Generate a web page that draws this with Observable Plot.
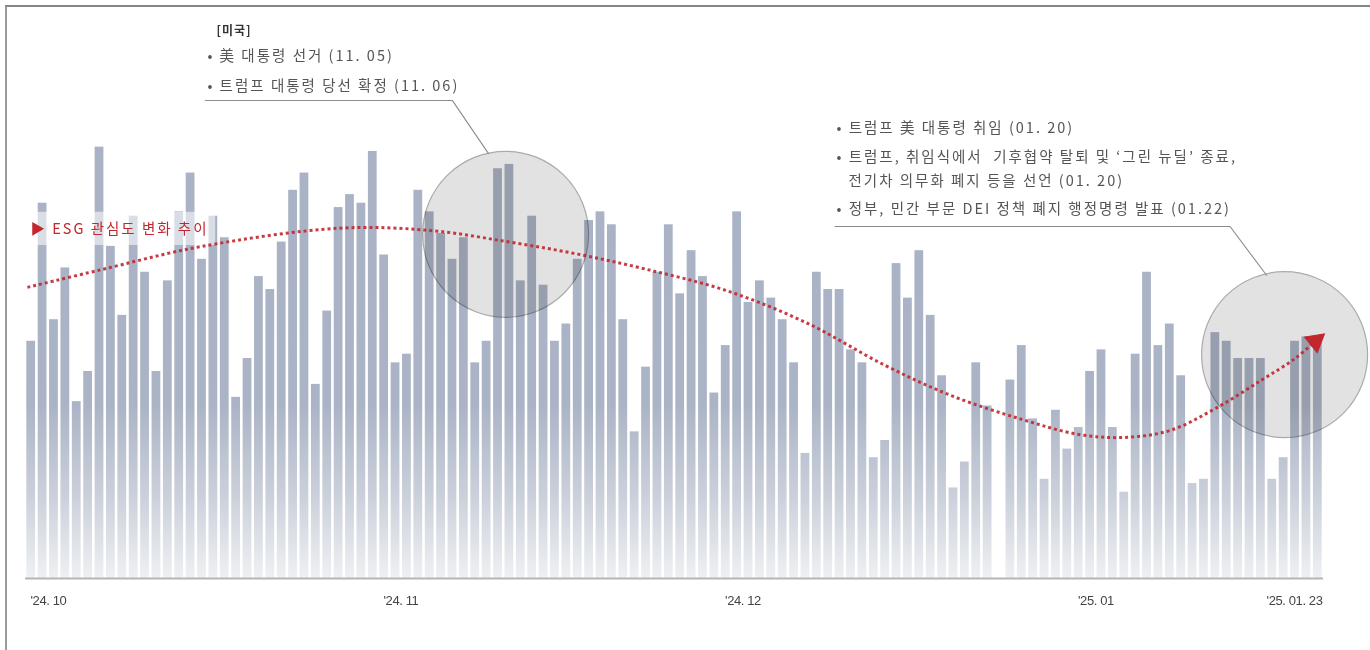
<!DOCTYPE html>
<html>
<head>
<meta charset="utf-8">
<script src="https://cdn.jsdelivr.net/npm/d3@7"></script>
<script src="https://cdn.jsdelivr.net/npm/@observablehq/plot@0.6"></script>
<style>
  html, body { margin: 0; padding: 0; background: #fff; }
  #wrap { position: relative; width: 1370px; height: 650px; overflow: hidden; }
  #frame { position: absolute; left: 5px; top: 5px; right: -5px; bottom: -5px;
           border-top: 2px solid #858585; border-left: 2px solid #9a9a9a; pointer-events: none; }
</style>
</head>
<body>
<div id="wrap"><div id="chart"></div><div id="frame"></div></div>
<script>
// ---------- data ----------
const startDate = "2024-10-01";
// daily ESG interest index (Oct 1, 2024 – Jan 22, 2025); Dec 25 has no data
const dailyValues = [
  // Oct
  55, 87, 60, 72, 41, 48, 100, 77, 61, 84, 71, 48, 69, 85, 94, 74, 84, 79, 42, 51,
  70, 67, 78, 90, 94, 45, 62, 86, 89, 87, 99,
  // Nov
  75, 50, 52, 90, 85, 80, 74, 79, 50, 55, 95, 96, 69, 84, 68, 55, 59, 74, 83, 85,
  82, 60, 34, 49, 71, 82, 66, 76, 70, 43,
  // Dec
  54, 85, 64, 69, 65, 60, 50, 29, 71, 67, 67, 53, 50, 28, 32, 73, 65, 76, 61, 47,
  21, 27, 50, 40, null, 46, 54, 37, 23, 39, 30,
  // Jan
  35, 48, 53, 35, 20, 52, 71, 54, 59, 47, 22, 23, 57, 55, 51, 51, 51, 23, 28, 55,
  56, 56
];

const tickDates = ["2024-10-01", "2024-11-01", "2024-12-01", "2025-01-01"];
const tickLabels = ["'24. 10", "'24. 11", "'24. 12", "'25. 01"];
const endTickDates = ["2025-01-23"];
const endTickLabels = ["'25. 01. 23"];

// ESG interest trend (dotted curve)
const trendDates = [
  "2024-10-01T04:00Z", "2024-10-07T12:00Z", "2024-10-16T12:00Z", "2024-10-28T12:00Z",
  "2024-11-05T12:00Z", "2024-11-12T12:00Z", "2024-11-18T12:00Z", "2024-11-24T12:00Z",
  "2024-12-01T12:00Z", "2024-12-08T12:00Z", "2024-12-15T12:00Z", "2024-12-21T12:00Z",
  "2024-12-27T12:00Z", "2025-01-01T12:00Z", "2025-01-05T12:00Z", "2025-01-09T12:00Z",
  "2025-01-13T12:00Z", "2025-01-17T12:00Z", "2025-01-20T12:00Z", "2025-01-22T12:00Z"
];
const trendValues = [
  67.5, 71.5, 77.0, 81.2, 80.7, 78.0, 75.2, 71.7, 66.8, 59.4,
  49.4, 42.2, 36.9, 33.4, 32.7, 34.3, 39.4, 45.9, 51.0, 55.5
];
const trendLabel = ["▶ ESG 관심도 변화 추이"];
const trendLabelDates = ["2024-10-01T10:30Z"];
const trendLabelValues = [80.9];
const trendLabelBoxDates = ["2024-10-01T00:00Z", "2024-10-17T16:48Z"];
const trendLabelBoxValues = [77.2, 84.9];
const arrowDates = ["2025-01-22T07:00Z"];
const arrowValues = [55.0];

// highlight circles (event periods)
const circleDates = ["2024-11-12T04:00Z", "2025-01-19T14:00Z"];
const circleValues = [79.8, 51.9];

// annotations
const noteHead = ["[미국]"];
const noteHeadDates = ["2024-10-17T18:30Z"];
const noteHeadValues = [126.8];
const noteTexts = [
  "• 美 대통령 선거 (11. 05)",
  "• 트럼프 대통령 당선 확정 (11. 06)",
  "• 트럼프 美 대통령 취임 (01. 20)",
  "• 트럼프, 취임식에서  기후협약 탈퇴 및 ‘그린 뉴딜’ 종료,",
  "전기차 의무화 폐지 등을 선언 (01. 20)",
  "• 정부, 민간 부문 DEI 정책 폐지 행정명령 발표 (01.22)"
];
const noteDates = [
  "2024-10-16T23:30Z", "2024-10-16T23:30Z",
  "2024-12-11T05:30Z", "2024-12-11T05:30Z", "2024-12-12T06:45Z", "2024-12-11T05:30Z"
];
const noteValues = [121.0, 114.1, 104.3, 97.6, 92.0, 85.6];

// leader lines from notes to circles
const leaderIds = ["us", "us", "us", "inaug", "inaug", "inaug"];
const leaderDates = [
  "2024-10-16T19:00Z", "2024-11-07T12:00Z", "2024-11-10T16:00Z",
  "2024-12-11T02:24Z", "2025-01-14T19:00Z", "2025-01-18T00:00Z"
];
const leaderValues = [110.8, 110.8, 98.5, 81.6, 81.6, 70.3];

// ---------- build ----------
const parse = s => new Date(s.length === 10 ? s + "T00:00:00Z" : s);
const start = parse(startDate);
const bars = dailyValues
  .map((v, i) => ({date: d3.utcDay.offset(start, i), value: v}))
  .filter(d => d.value != null);
const trend = trendDates.map((d, i) => ({date: parse(d), value: trendValues[i]}));
const circles = circleDates.map((d, i) => ({date: parse(d), value: circleValues[i]}));
const notes = noteTexts.map((t, i) => ({date: parse(noteDates[i]), value: noteValues[i], text: t}));
const heads = noteHead.map((t, i) => ({date: parse(noteHeadDates[i]), value: noteHeadValues[i], text: t}));
const leaders = leaderIds.map((id, i) => ({id, date: parse(leaderDates[i]), value: leaderValues[i]}));
const ticks = tickDates.map((d, i) => ({date: parse(d), label: tickLabels[i]}));
const endTicks = endTickDates.map((d, i) => ({date: parse(d), label: endTickLabels[i]}));
const labelRows = trendLabel.map((t, i) => ({date: parse(trendLabelDates[i]), value: trendLabelValues[i], text: t}));
const labelBox = [{x1: parse(trendLabelBoxDates[0]), x2: parse(trendLabelBoxDates[1]),
                   y1: trendLabelBoxValues[0], y2: trendLabelBoxValues[1]}];
const arrows = arrowDates.map((d, i) => ({date: parse(d), value: arrowValues[i]}));

const RED = "#c1272d";
const FONT = "'Noto Sans CJK KR', 'Noto Sans', sans-serif";
const TICKFONT = "'Liberation Sans Narrow', 'Liberation Sans', Arial, sans-serif";

const chart = Plot.plot({
  width: 1370,
  height: 650,
  marginLeft: 25,
  marginRight: 47,
  marginTop: 0,
  marginBottom: 72,
  x: {type: "utc", domain: [parse("2024-10-01"), parse("2025-01-23")], axis: null},
  y: {domain: [0, 134], axis: null},
  style: {fontFamily: FONT, background: "transparent", overflow: "visible"},
  marks: [
    Plot.rect(bars, {
      x1: "date", x2: d => d3.utcDay.offset(d.date, 1), y1: 0, y2: "value",
      insetLeft: 1.3, insetRight: 1.3, fill: "url(#barGrad)"
    }),
    Plot.ruleY([0], {stroke: "#b5b5b5", strokeWidth: 2}),
    Plot.dot(circles, {
      x: "date", y: "value", r: 83, fill: "#e2e2e2", stroke: "#ababab", strokeWidth: 1.2,
      mixBlendMode: "multiply"
    }),
    Plot.rect(labelBox, {x1: "x1", x2: "x2", y1: "y1", y2: "y2", fill: "white", fillOpacity: 0.55}),
    Plot.line(trend, {
      x: "date", y: "value", curve: "catmull-rom", stroke: RED, strokeWidth: 3,
      strokeDasharray: "3,3", strokeLinecap: "butt", strokeOpacity: 0.9
    }),
    Plot.dot(arrows, {x: "date", y: "value", symbol: "triangle", r: 7.5, fill: RED, stroke: RED, strokeWidth: 1, rotate: 51}),
    Plot.line(leaders, {x: "date", y: "value", z: "id", stroke: "#8c8c8c", strokeWidth: 1.1}),
    Plot.text(labelRows, {
      x: "date", y: "value", text: "text", textAnchor: "start", fontSize: 14.5, fill: RED
    }),
    Plot.text(heads, {
      x: "date", y: "value", text: "text", textAnchor: "start", fontSize: 12, fontWeight: "bold",
      fill: "#333"
    }),
    Plot.text(notes, {
      x: "date", y: "value", text: "text", textAnchor: "start", fontSize: 14.5, fill: "#555"
    }),
    Plot.text(ticks, {
      x: "date", text: "label", frameAnchor: "bottom", dy: 26, dx: 5, textAnchor: "start",
      fontSize: 13, fill: "#444", fontFamily: TICKFONT
    }),
    Plot.text(endTicks, {
      x: "date", text: "label", frameAnchor: "bottom", dy: 26, dx: -1, textAnchor: "end",
      fontSize: 13, fill: "#444", fontFamily: TICKFONT
    })
  ]
});

const y0 = chart.scale("y").apply(0);
d3.select(chart).insert("defs", ":first-child").html(`
  <linearGradient id="barGrad" gradientUnits="userSpaceOnUse" x1="0" y1="0" x2="0" y2="${y0}">
    <stop offset="0" stop-color="#a9b2c4"/>
    <stop offset="0.70" stop-color="#abb4c6"/>
    <stop offset="0.86" stop-color="#cbd1db"/>
    <stop offset="1" stop-color="#eef0f3"/>
  </linearGradient>`);

// letter spacing of the annotation texts
const spaced = new Set([...noteTexts, ...trendLabel]);
d3.select(chart).selectAll("text")
  .filter(function() { return spaced.has(this.textContent); })
  .style("letter-spacing", "2px");
d3.select(chart).selectAll("text")
  .filter(function() { return noteHead.includes(this.textContent); })
  .style("letter-spacing", "1px");
const tickSet = new Set([...tickLabels, ...endTickLabels]);
d3.select(chart).selectAll("text")
  .filter(function() { return tickSet.has(this.textContent); })
  .style("letter-spacing", "-0.4px");
d3.select(chart).selectAll("circle")
  .filter(function() { return +this.getAttribute("r") > 50; })
  .style("mix-blend-mode", "multiply");

document.getElementById("chart").appendChild(chart);
</script>
</body>
</html>
